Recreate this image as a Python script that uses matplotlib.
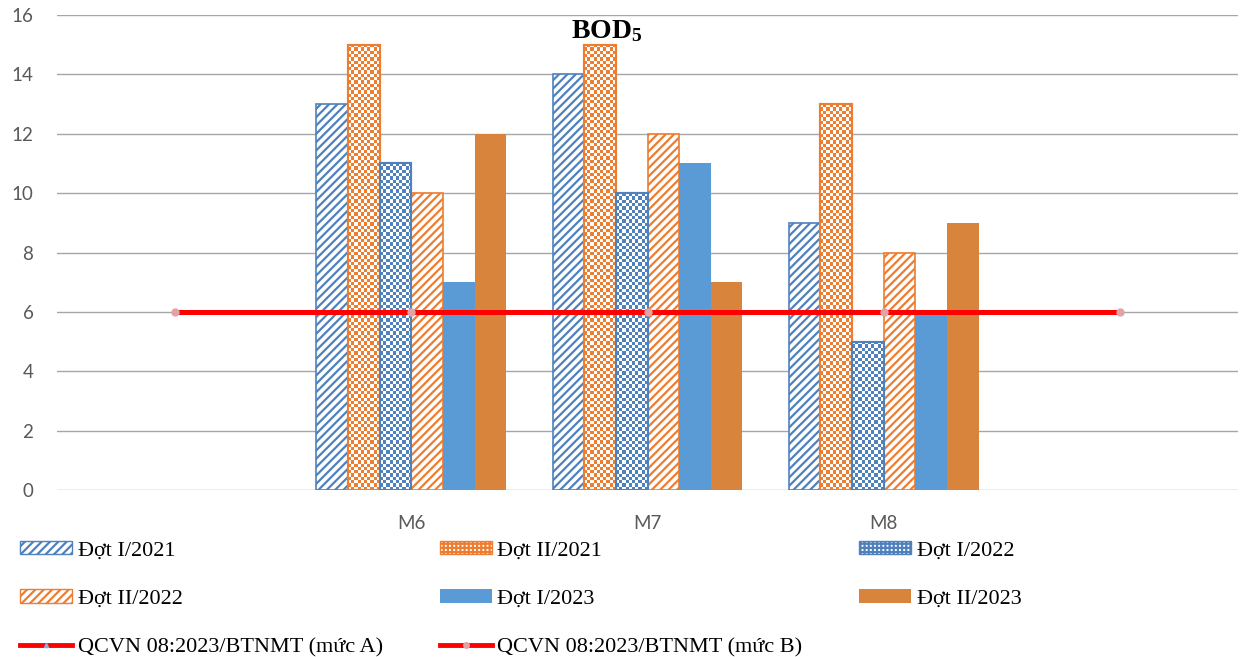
import numpy as np
import matplotlib.pyplot as plt
from matplotlib.colors import ListedColormap
from matplotlib.patches import Patch
from matplotlib.lines import Line2D

plt.rcParams['hatch.linewidth'] = 1.6
plt.rcParams['mathtext.fontset'] = 'custom'
plt.rcParams['mathtext.bf'] = 'Liberation Serif:bold'
plt.rcParams['mathtext.rm'] = 'Liberation Serif'

# data
categories = ['', 'M6', 'M7', 'M8', '']
labels = ['Đợt I/2021', 'Đợt II/2021', 'Đợt I/2022',
          'Đợt II/2022', 'Đợt I/2023', 'Đợt II/2023']
dot1_2021 = [np.nan, 13, 14, 9, np.nan]
dot2_2021 = [np.nan, 15, 15, 13, np.nan]
dot1_2022 = [np.nan, 11, 10, 5, np.nan]
dot2_2022 = [np.nan, 10, 12, 8, np.nan]
dot1_2023 = [np.nan, 7, 11, 6, np.nan]
dot2_2023 = [np.nan, 12, 7, 9, np.nan]
qcvn_a = [6, 6, 6, 6, 6]
qcvn_b = [6, 6, 6, 6, 6]

values = [dot1_2021, dot2_2021, dot1_2022, dot2_2022, dot1_2023, dot2_2023]

blue = '#4F81BD'
orange = '#ED7D31'
# (style, color) per series
styles = [('diag', blue), ('check', orange), ('check', blue),
          ('diag', orange), ('solid', '#5B9BD5'), ('solid', '#D9843D')]

fig = plt.figure(figsize=(12.48, 6.57), dpi=100)
ax = fig.add_axes([57 / 1248, 1 - 490 / 657, (1238 - 57) / 1248, (490 - 15) / 657])
ax.set_xlim(-0.5, 4.5)
ax.set_ylim(0, 16)

x = np.arange(len(categories))
w = 0.134
checker_bars = []
for i, (vals, (kind, col)) in enumerate(zip(values, styles)):
    pos = x + (i - 2.5) * w
    if kind == 'solid':
        ax.bar(pos, vals, w, color=col, zorder=2)
    elif kind == 'diag':
        ax.bar(pos, vals, w, facecolor='white', edgecolor=col, hatch='////',
               linewidth=1.2, zorder=2)
    else:
        bars = ax.bar(pos, vals, w, facecolor='white', edgecolor=col,
                      linewidth=1.5, zorder=2)
        checker_bars.append((bars, col))

# checkerboard texture clipped to each bar
cell = 3.3
for bars, col in checker_bars:
    cmap = ListedColormap(['white', col])
    for b in bars:
        h = b.get_height()
        if not np.isfinite(h) or h == 0:
            continue
        x0 = b.get_x()
        p0 = ax.transData.transform((x0, 0))
        p1 = ax.transData.transform((x0 + b.get_width(), h))
        nx = max(1, int(round((p1[0] - p0[0]) / cell)))
        ny = max(1, int(round((p1[1] - p0[1]) / cell)))
        arr = np.add.outer(np.arange(ny), np.arange(nx)) % 2
        im = ax.imshow(arr, extent=(x0, x0 + b.get_width(), 0, h), origin='lower',
                       cmap=cmap, interpolation='nearest', aspect='auto', zorder=2.1)
        im.set_clip_path(b)
        ax.bar(x0 + b.get_width() / 2, h, b.get_width(), fill=False,
               edgecolor=col, linewidth=1.5, zorder=2.2)

ax.plot(x, qcvn_a, color='#FF0000', lw=3.5, marker='^', ms=3,
        mfc='#8FAADC', mec='#8FAADC', zorder=4)
ax.plot(x, qcvn_b, color='#FF0000', lw=3.5, marker='o', ms=5,
        mfc='#E3A3A3', mec='#E3A3A3', zorder=5)

ax.set_xlim(-0.5, 4.5)
ax.set_ylim(0, 16)
ax.set_yticks(np.arange(0, 17, 2))
ax.set_xticks(x)
ax.set_xticklabels(categories)
ax.set_axisbelow(True)
ax.yaxis.grid(True, color='#A6A6A6', lw=1)
for s in ax.spines.values():
    s.set_visible(False)
ax.tick_params(axis='y', length=0, pad=17, labelsize=13.5, labelcolor='#595959')
ax.tick_params(axis='x', length=0, pad=18, labelsize=13.5, labelcolor='#595959')
for t in ax.get_xticklabels() + ax.get_yticklabels():
    t.set_fontfamily('Lato')

fig.text(607 / 1248, 1 - 30 / 657, r'$\mathbf{BOD_5}$', ha='center', va='center',
         fontsize=20)

# legend
h = [
    Patch(facecolor='white', edgecolor=blue, hatch='////'),
    Patch(facecolor='white', edgecolor=orange, hatch='++++'),
    Patch(facecolor='white', edgecolor=blue, hatch='++++'),
    Patch(facecolor='white', edgecolor=orange, hatch='////'),
    Patch(facecolor='#5B9BD5'),
    Patch(facecolor='#D9843D'),
    Line2D([], [], color='#FF0000', lw=3.5, marker='^', ms=3, mfc='#8FAADC', mec='#8FAADC'),
    Line2D([], [], color='#FF0000', lw=3.5, marker='o', ms=4, mfc='#E3A3A3', mec='#E3A3A3'),
]
lab = labels + ['QCVN 08:2023/BTNMT (mức A)', 'QCVN 08:2023/BTNMT (mức B)']
order = [0, 3, 6, 1, 4, 7, 2, 5]
fig.legend([h[k] for k in order], [lab[k] for k in order], loc='upper left',
           bbox_to_anchor=(20 / 1248, 1 - 541 / 657), ncol=3, frameon=False,
           prop={'family': 'Liberation Serif', 'size': 16},
           handlelength=2.35, handleheight=0.55, handletextpad=0.25,
           columnspacing=2.55, labelspacing=1.3, borderaxespad=0, borderpad=0)

fig.savefig('out.png', dpi=100)
